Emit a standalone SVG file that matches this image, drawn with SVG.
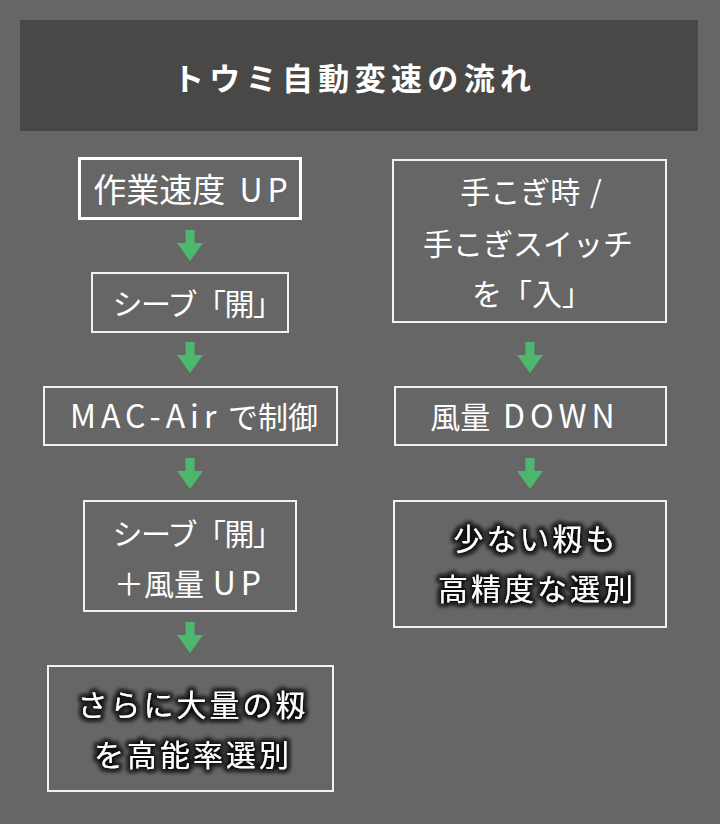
<svg xmlns="http://www.w3.org/2000/svg" width="720" height="824" viewBox="0 0 720 824">
<style>
.bg{fill:#666666}
.title-bar{fill:#4a4846}
.box{fill:none;stroke:#f2f2f2;stroke-width:2}
.box.thick{stroke:#ffffff;stroke-width:3}
.t{font-family:"Noto Sans CJK JP","Noto Sans",sans-serif;font-size:30px;fill:#ffffff;text-anchor:middle}
.big{font-size:33px}
.br{letter-spacing:-1.5px}
.sp{letter-spacing:3px}
.lat{font-size:32px;letter-spacing:5px}
.title{font-family:"Noto Sans CJK JP","Noto Sans",sans-serif;font-size:31px;font-weight:bold;fill:#ffffff;text-anchor:middle}
.arrow{fill:#4db86d}
</style>
<defs>
<filter id="glow" x="-20%" y="-40%" width="140%" height="180%">
<feMorphology in="SourceAlpha" operator="dilate" radius="1.5" result="d"/>
<feGaussianBlur in="d" stdDeviation="2.5" result="b"/>
<feFlood flood-color="#111111" flood-opacity="0.95"/>
<feComposite in2="b" operator="in" result="s"/>
<feMerge><feMergeNode in="s"/><feMergeNode in="s"/><feMergeNode in="SourceGraphic"/></feMerge>
</filter>
<path id="arr" d="M-4.5,0 H4.5 V13 H13 L0,31 L-13,13 H-4.5 Z"/>
</defs>
<rect class="bg" x="0" y="0" width="720" height="824"/>
<g id="title">
<rect class="title-bar" x="20" y="20" width="678" height="111"/>
<text class="title" x="352" y="90" textLength="358" lengthAdjust="spacing">トウミ自動変速の流れ</text>
</g>
<g id="connectors">
<use href="#arr" class="arrow" x="190" y="230"/>
<use href="#arr" class="arrow" x="190" y="342"/>
<use href="#arr" class="arrow" x="190" y="458"/>
<use href="#arr" class="arrow" x="190" y="622"/>
<use href="#arr" class="arrow" x="530" y="342"/>
<use href="#arr" class="arrow" x="530" y="458"/>
</g>
<g id="node-speed-up">
<rect class="box thick" x="79.5" y="158.5" width="221" height="60"/>
<text class="t big" x="193" y="202">作業速度 <tspan class="lat" dx="7">U</tspan><tspan class="lat" letter-spacing="0">P</tspan></text>
</g>
<g id="node-sieve-open">
<rect class="box" x="92" y="273" width="196" height="59"/>
<text class="t br" x="197" y="315">シーブ「開」</text>
</g>
<g id="node-mac-air">
<rect class="box" x="44" y="387" width="293" height="58"/>
<text class="t" x="194" y="428"><tspan class="lat">MAC-Ai</tspan><tspan class="lat" letter-spacing="0">r</tspan> で制御</text>
</g>
<g id="node-sieve-wind">
<rect class="box" x="84" y="501" width="212" height="110"/>
<text class="t br" x="197" y="545">シーブ「開」</text>
<text class="t" x="190" y="595">＋風量 <tspan class="lat" dx="2">U</tspan><tspan class="lat" letter-spacing="0">P</tspan></text>
</g>
<g id="node-high-eff">
<rect class="box" x="48" y="666" width="285" height="125"/>
<text class="t sp" x="193" y="716" filter="url(#glow)">さらに大量の籾</text>
<text class="t sp" x="193" y="766" filter="url(#glow)">を高能率選別</text>
</g>
<g id="node-manual">
<rect class="box" x="393" y="160" width="273" height="162"/>
<text class="t" x="531" y="203">手こぎ時 <tspan dx="3">/</tspan></text>
<text class="t" x="528" y="255">手こぎスイッチ</text>
<text class="t" x="532" y="305">を「入」</text>
</g>
<g id="node-wind-down">
<rect class="box" x="395" y="387" width="271" height="58"/>
<text class="t" x="525" y="428">風量 <tspan class="lat" dx="6">DOW</tspan><tspan class="lat" letter-spacing="0">N</tspan></text>
</g>
<g id="node-precise">
<rect class="box" x="394" y="501" width="272" height="126"/>
<text class="t sp" x="536" y="550" filter="url(#glow)">少ない籾も</text>
<text class="t sp" x="537" y="600" filter="url(#glow)">高精度な選別</text>
</g>
</svg>
